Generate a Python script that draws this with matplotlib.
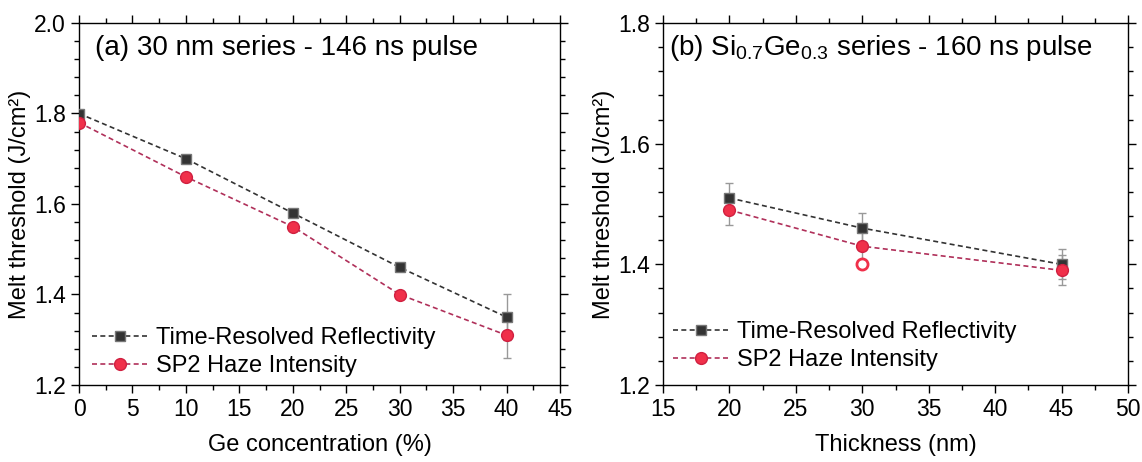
import matplotlib
matplotlib.use('Agg')
import matplotlib.pyplot as plt
from matplotlib.ticker import MultipleLocator

plt.rcParams['font.family'] = ['Liberation Sans', 'DejaVu Sans']

# (a) 30 nm series
ge_conc = [0, 10, 20, 30, 40]
trr_a = [1.80, 1.70, 1.58, 1.46, 1.35]
trr_a_err = [0, 0, 0, 0, 0.05]
sp2_a = [1.78, 1.66, 1.55, 1.40, 1.31]
sp2_a_err = [0, 0, 0, 0, 0.05]

# (b) Si0.7Ge0.3 series
thickness = [20, 30, 45]
trr_b = [1.51, 1.46, 1.40]
trr_b_err = [0.025, 0.025, 0.025]
sp2_b = [1.49, 1.43, 1.39]
sp2_b_err = [0.025, 0.025, 0.025]
open_x = [30]
open_y = [1.40]

trr_col = '#333333'
sp2_col = '#f0304a'
sp2_line = '#b0305a'

fig = plt.figure(figsize=(11.42, 4.62), dpi=100)
ax1 = fig.add_axes([79/1142, 1 - 385/462, 481/1142, 362/462])
ax2 = fig.add_axes([663/1142, 1 - 385/462, 465/1142, 362/462])


def draw(ax, x, y1, e1, y2, e2):
    # error bars first, then the dashed lines with markers
    ax.errorbar(x, y1, yerr=e1, fmt='none', ecolor='#999999',
                elinewidth=1, capsize=3, zorder=2)
    ax.errorbar(x, y2, yerr=e2, fmt='none', ecolor='#999999',
                elinewidth=1, capsize=3, zorder=2)
    h1, = ax.plot(x, y1, color=trr_col, ls=(0, (3, 2)), lw=1.2,
                  marker='s', ms=7.5, mfc=trr_col, mec='#777777', mew=1,
                  label='Time-Resolved Reflectivity', zorder=3)
    h2, = ax.plot(x, y2, color=sp2_line, ls=(0, (3, 2)), lw=1.2,
                  marker='o', ms=8.5, mfc=sp2_col, mec='#d02040', mew=1,
                  label='SP2 Haze Intensity', zorder=4)
    return [h1, h2]


hs1 = draw(ax1, ge_conc, trr_a, trr_a_err, sp2_a, sp2_a_err)
hs2 = draw(ax2, thickness, trr_b, trr_b_err, sp2_b, sp2_b_err)
ax2.plot(open_x, open_y, 'o', ms=8, mfc='white', mec=sp2_col, mew=2, zorder=5)

ax1.set_xlim(0, 45)
ax1.set_ylim(1.2, 2.0)
ax1.set_xlabel('Ge concentration (%)', fontsize=17, labelpad=9)
ax1.set_ylabel('Melt threshold (J/cm²)', fontsize=17, labelpad=2)
ax1.text(0.033, 0.912, '(a) 30 nm series - 146 ns pulse', transform=ax1.transAxes,
         fontsize=20, va='baseline', ha='left')

ax2.set_xlim(15, 50)
ax2.set_ylim(1.2, 1.8)
ax2.set_xlabel('Thickness (nm)', fontsize=17, labelpad=9)
ax2.set_ylabel('Melt threshold (J/cm²)', fontsize=17, labelpad=2)
ax2.text(0.013, 0.912, r'(b) Si$_{\mathregular{0.7}}$Ge$_{\mathregular{0.3}}$ series - 160 ns pulse',
         transform=ax2.transAxes, fontsize=20, va='baseline', ha='left')

for ax in (ax1, ax2):
    ax.xaxis.set_major_locator(MultipleLocator(5))
    ax.xaxis.set_minor_locator(MultipleLocator(2.5))
    ax.yaxis.set_major_locator(MultipleLocator(0.2))
    ax.yaxis.set_minor_locator(MultipleLocator(0.04))
    ax.tick_params(which='both', direction='out', top=True, right=True,
                   labelsize=16.5, width=1)
    ax.tick_params(which='major', length=6)
    ax.tick_params(which='minor', length=3.5)
    for s in ax.spines.values():
        s.set_linewidth(1)

ax1.legend(handles=hs1, loc='center left', bbox_to_anchor=(0.027, 0.091),
           frameon=False, fontsize=17, handlelength=2.4, handletextpad=0.3,
           labelspacing=0.25, borderaxespad=0, borderpad=0)
ax2.legend(handles=hs2, loc='center left', bbox_to_anchor=(0.0215, 0.108),
           frameon=False, fontsize=17, handlelength=2.4, handletextpad=0.3,
           labelspacing=0.25, borderaxespad=0, borderpad=0)

fig.savefig('out.png', dpi=100)
